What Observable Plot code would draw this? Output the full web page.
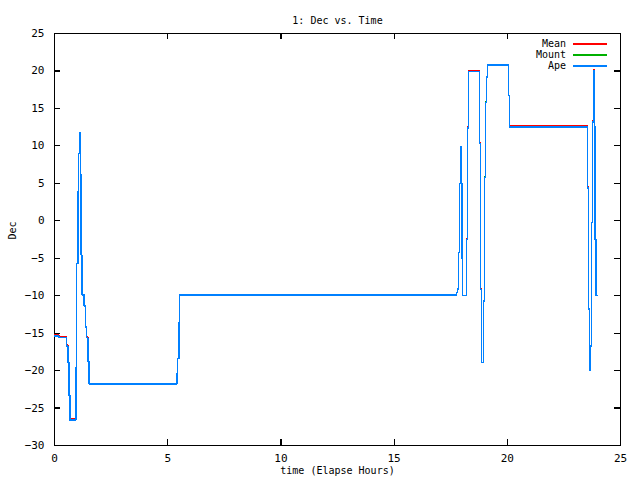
<!DOCTYPE html>
<html>
<head>
<meta charset="utf-8">
<script src="https://cdn.jsdelivr.net/npm/d3@7"></script>
<script src="https://cdn.jsdelivr.net/npm/@observablehq/plot@0.6"></script>
<style>
  html, body { margin: 0; padding: 0; background: #fff; }
  #wrap { position: relative; width: 640px; height: 480px; font-family: "DejaVu Sans Mono", "Liberation Mono", monospace; }
  #legend { position: absolute; right: 33px; top: 38px; font-size: 10px; line-height: 11px; }
  #legend div { display: flex; align-items: center; justify-content: flex-end; height: 11px; }
  #legend span.sw { display: inline-block; width: 34px; height: 2px; margin-left: 7px; }
</style>
</head>
<body>
<div id="wrap"><div id="legend"></div></div>
<script>
// Elapsed hours of each step
const time = [0.00, 0.19, 0.53, 0.59, 0.63, 0.68, 0.94, 0.98, 1.03, 1.07, 1.12, 1.15, 1.18, 1.22, 1.31, 1.36, 1.41, 1.47, 1.53,
  5.40, 5.44, 5.49, 5.53,
  17.75, 17.81, 17.85, 17.89, 17.94, 17.96, 18.00, 18.03, 18.20, 18.25, 18.29, 18.78, 18.82, 18.86, 18.95, 18.99, 19.04, 19.09, 19.13,
  20.06, 20.10,
  23.55, 23.59, 23.63, 23.68, 23.71, 23.77, 23.81, 23.85, 23.88, 23.92, 23.98];
const ape = [-15.4, -15.6, -16.7, -18.9, -23.3, -26.6, -19.6, -5.7, 3.9, 9.0, 11.7, 6.2, -4.6, -9.9, -11.4, -14.2, -15.6, -18.8, -21.8,
  -20.4, -18.4, -13.6, -9.9,
  -9.6, -9.1, -4.2, 5.0, 9.9, 4.9, -5.0, -10.0, -2.5, 12.4, 19.9, 10.3, -9.2, -18.9, -10.7, 5.8, 15.8, 19.2, 20.8,
  16.7, 12.5,
  4.4, -11.8, -20.0, -16.7, -0.2, 13.2, 20.0, 12.5, -2.5, -10.0, -10.0];
const mount = [-15.4, -15.6, -16.7, -18.9, -23.3, -26.6, -19.6, -5.7, 3.9, 9.0, 11.7, 6.2, -4.6, -9.9, -11.4, -14.2, -15.6, -18.8, -21.8,
  -20.4, -18.4, -13.6, -9.9,
  -9.6, -9.1, -4.2, 5.0, 9.9, 4.9, -5.0, -10.0, -2.5, 12.4, 19.9, 10.3, -9.2, -18.9, -10.7, 5.9, 15.9, 19.2, 20.8,
  16.7, 12.5,
  4.4, -11.8, -20.0, -16.7, -0.2, 13.2, 20.0, 12.5, -2.5, -10.0, -10.0];
const mean = [-15.25, -15.45, -16.6, -18.8, -23.3, -26.45, -19.6, -5.7, 3.9, 9.0, 11.7, 6.2, -4.6, -9.9, -11.4, -14.1, -15.5, -18.8, -21.8,
  -20.4, -18.4, -13.6, -9.9,
  -9.6, -9.1, -4.2, 5.0, 9.9, 4.9, -5.0, -10.0, -2.35, 12.5, 20.05, 10.4, -9.1, -18.9, -10.7, 5.8, 15.8, 19.2, 20.8,
  16.7, 12.65,
  4.5, -11.8, -20.0, -16.7, -0.2, 13.4, 20.1, 12.5, -2.5, -10.0, -10.0];

const seriesNames = ["Mean", "Mount", "Ape"];
const seriesColors = ["#ff0000", "#00b000", "#0080ff"];
const xTicks = [0, 5, 10, 15, 20, 25];
const yTicks = [-30, -25, -20, -15, -10, -5, 0, 5, 10, 15, 20, 25];

const seriesValues = [mean, mount, ape];
const rows = seriesNames.flatMap((s, i) => time.map((t, j) => ({series: s, time: t, value: seriesValues[i][j]})));

const font = '"DejaVu Sans Mono", "Liberation Mono", monospace';
const tick = 6;
const xMin = xTicks[0], xMax = xTicks[xTicks.length - 1];
const yMin = yTicks[0], yMax = yTicks[yTicks.length - 1];
const lineOpts = {x: "time", y: "value", stroke: "series", curve: "step-after", strokeWidth: 1.5, shapeRendering: "crispEdges"};
const tickStyle = {stroke: "black", strokeWidth: 1.2, shapeRendering: "crispEdges"};

const chart = Plot.plot({
  width: 640,
  height: 480,
  marginLeft: 54,
  marginRight: 20,
  marginTop: 33,
  marginBottom: 35,
  style: {fontFamily: font, fontSize: "11px", color: "#000", background: "#fff"},
  x: {domain: [xMin, xMax], ticks: xTicks},
  y: {domain: [yMin, yMax], ticks: yTicks},
  color: {domain: seriesNames, range: seriesColors},
  marks: [
    Plot.axisX(xTicks, {anchor: "bottom", tickSize: 0, tickPadding: 9, label: null}),
    Plot.axisY(yTicks, {anchor: "left", tickSize: 0, tickPadding: 10, label: null}),
    Plot.frame({stroke: "black", strokeWidth: 1.2, shapeRendering: "crispEdges"}),
    Plot.line(rows.filter(d => d.series === "Mean"), lineOpts),
    Plot.line(rows.filter(d => d.series === "Mount"), lineOpts),
    Plot.line(rows.filter(d => d.series === "Ape"), lineOpts),
    // inward mirrored ticks on all four sides
    Plot.ruleX(xTicks, {x: d => d, y1: () => yMin, y2: () => yMin, insetTop: -tick, ...tickStyle}),
    Plot.ruleX(xTicks, {x: d => d, y1: () => yMax, y2: () => yMax, insetBottom: -tick, ...tickStyle}),
    Plot.ruleY(yTicks, {y: d => d, x1: () => xMin, x2: () => xMin, insetRight: -tick, ...tickStyle}),
    Plot.ruleY(yTicks, {y: d => d, x1: () => xMax, x2: () => xMax, insetLeft: -tick, ...tickStyle}),
    Plot.text(["1: Dec vs. Time"], {frameAnchor: "top", dy: -17, fontSize: 10}),
    Plot.text(["time (Elapse Hours)"], {frameAnchor: "bottom", dy: 28, fontSize: 10}),
    Plot.text(["Dec"], {frameAnchor: "left", dx: -42, rotate: -90, fontSize: 10})
  ]
});

const wrap = document.getElementById("wrap");
wrap.insertBefore(chart, wrap.firstChild);

const legend = document.getElementById("legend");
seriesNames.forEach((s, i) => {
  const row = document.createElement("div");
  const label = document.createElement("span");
  label.textContent = s;
  const sw = document.createElement("span");
  sw.className = "sw";
  sw.style.background = seriesColors[i];
  row.appendChild(label);
  row.appendChild(sw);
  legend.appendChild(row);
});
</script>
</body>
</html>
